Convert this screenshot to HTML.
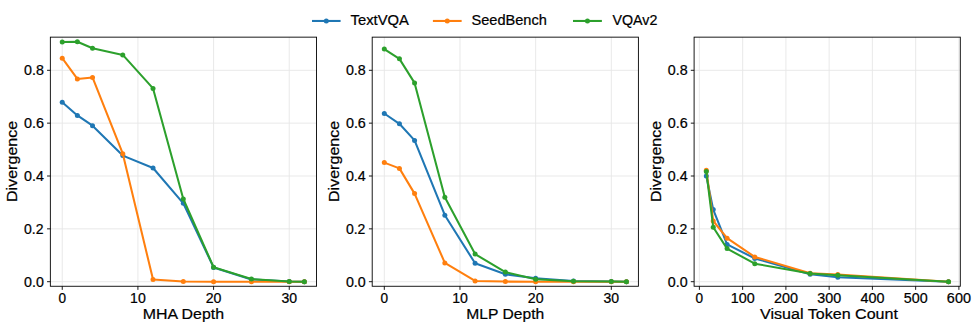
<!DOCTYPE html>
<html><head><meta charset="utf-8"><title>Divergence</title>
<style>
html,body{margin:0;padding:0;background:#fff;}
body{width:977px;height:329px;overflow:hidden;font-family:"Liberation Sans",sans-serif;}
svg{display:block;}
text{font-family:"Liberation Sans",sans-serif;fill:#000;stroke:#000;stroke-width:0.22px;}
.tk{font-size:13.95px;}
.lb{font-size:15.33px;}
.lg{font-size:14.28px;}
.grid line{stroke:#e7e7e7;stroke-width:0.9;}
.spine{fill:none;stroke:#000;stroke-width:0.9;}
.tick line{stroke:#000;stroke-width:0.9;}
.ser{fill:none;stroke-width:2.05;stroke-linejoin:round;stroke-linecap:butt;}
</style></head><body>
<svg width="977" height="329" viewBox="0 0 977 329">
<rect x="0" y="0" width="977" height="329" fill="#fff"/>

<g class="grid">
<line x1="62.24" y1="37.15" x2="62.24" y2="286.26"/>
<line x1="137.91" y1="37.15" x2="137.91" y2="286.26"/>
<line x1="213.58" y1="37.15" x2="213.58" y2="286.26"/>
<line x1="289.25" y1="37.15" x2="289.25" y2="286.26"/>
<line x1="50.35" y1="281.7" x2="316.55" y2="281.7"/>
<line x1="50.35" y1="228.85" x2="316.55" y2="228.85"/>
<line x1="50.35" y1="176.0" x2="316.55" y2="176.0"/>
<line x1="50.35" y1="123.15" x2="316.55" y2="123.15"/>
<line x1="50.35" y1="70.3" x2="316.55" y2="70.3"/>
</g>
<polyline class="ser" stroke="#1f77b4" points="62.24,102.30 77.37,115.40 92.51,125.70 122.78,155.60 153.04,168.00 183.31,203.30 213.58,267.40 251.42,279.40 289.25,281.45 304.38,281.70"/>
<g fill="#1f77b4"><circle cx="62.24" cy="102.30" r="2.5"/><circle cx="77.37" cy="115.40" r="2.5"/><circle cx="92.51" cy="125.70" r="2.5"/><circle cx="122.78" cy="155.60" r="2.5"/><circle cx="153.04" cy="168.00" r="2.5"/><circle cx="183.31" cy="203.30" r="2.5"/><circle cx="213.58" cy="267.40" r="2.5"/><circle cx="251.42" cy="279.40" r="2.5"/><circle cx="289.25" cy="281.45" r="2.5"/><circle cx="304.38" cy="281.70" r="2.5"/></g>
<polyline class="ser" stroke="#ff7f0e" points="62.24,58.20 77.37,78.90 92.51,77.40 122.78,153.70 153.04,279.60 183.31,281.55 213.58,281.70 251.42,281.70 289.25,281.70 304.38,281.70"/>
<g fill="#ff7f0e"><circle cx="62.24" cy="58.20" r="2.5"/><circle cx="77.37" cy="78.90" r="2.5"/><circle cx="92.51" cy="77.40" r="2.5"/><circle cx="122.78" cy="153.70" r="2.5"/><circle cx="153.04" cy="279.60" r="2.5"/><circle cx="183.31" cy="281.55" r="2.5"/><circle cx="213.58" cy="281.70" r="2.5"/><circle cx="251.42" cy="281.70" r="2.5"/><circle cx="289.25" cy="281.70" r="2.5"/><circle cx="304.38" cy="281.70" r="2.5"/></g>
<polyline class="ser" stroke="#2ca02c" points="62.24,41.90 77.37,41.80 92.51,48.30 122.78,54.90 153.04,88.40 183.31,199.00 213.58,267.20 251.42,279.00 289.25,281.45 304.38,281.70"/>
<g fill="#2ca02c"><circle cx="62.24" cy="41.90" r="2.5"/><circle cx="77.37" cy="41.80" r="2.5"/><circle cx="92.51" cy="48.30" r="2.5"/><circle cx="122.78" cy="54.90" r="2.5"/><circle cx="153.04" cy="88.40" r="2.5"/><circle cx="183.31" cy="199.00" r="2.5"/><circle cx="213.58" cy="267.20" r="2.5"/><circle cx="251.42" cy="279.00" r="2.5"/><circle cx="289.25" cy="281.45" r="2.5"/><circle cx="304.38" cy="281.70" r="2.5"/></g>
<rect class="spine" x="50.35" y="37.15" width="266.2" height="249.11"/>
<g class="tick">
<line x1="62.24" y1="286.26" x2="62.24" y2="289.86"/>
<line x1="137.91" y1="286.26" x2="137.91" y2="289.86"/>
<line x1="213.58" y1="286.26" x2="213.58" y2="289.86"/>
<line x1="289.25" y1="286.26" x2="289.25" y2="289.86"/>
<line x1="47.05" y1="281.7" x2="50.35" y2="281.7"/>
<line x1="47.05" y1="228.85" x2="50.35" y2="228.85"/>
<line x1="47.05" y1="176.0" x2="50.35" y2="176.0"/>
<line x1="47.05" y1="123.15" x2="50.35" y2="123.15"/>
<line x1="47.05" y1="70.3" x2="50.35" y2="70.3"/>
</g>
<text class="tk" x="58.46" y="303.00" textLength="7.57" lengthAdjust="spacingAndGlyphs">0</text>
<text class="tk" x="130.12" y="303.00" textLength="15.67" lengthAdjust="spacingAndGlyphs">10</text>
<text class="tk" x="205.69" y="303.00" textLength="15.77" lengthAdjust="spacingAndGlyphs">20</text>
<text class="tk" x="281.50" y="303.00" textLength="15.62" lengthAdjust="spacingAndGlyphs">30</text>
<text class="tk" x="24.05" y="286.55" textLength="19.83" lengthAdjust="spacingAndGlyphs">0.0</text>
<text class="tk" x="24.06" y="233.70" textLength="19.50" lengthAdjust="spacingAndGlyphs">0.2</text>
<text class="tk" x="24.05" y="180.85" textLength="19.82" lengthAdjust="spacingAndGlyphs">0.4</text>
<text class="tk" x="24.05" y="128.00" textLength="19.98" lengthAdjust="spacingAndGlyphs">0.6</text>
<text class="tk" x="24.05" y="75.15" textLength="19.83" lengthAdjust="spacingAndGlyphs">0.8</text>
<text class="lb" x="142.73" y="319.20" textLength="81.36" lengthAdjust="spacingAndGlyphs">MHA Depth</text>
<g transform="translate(17.00,161.15) rotate(-90)"><text class="lb" x="-40.94" y="0.00" textLength="81.36" lengthAdjust="spacingAndGlyphs">Divergence</text></g>
<g class="grid">
<line x1="384.30" y1="37.15" x2="384.30" y2="286.26"/>
<line x1="459.97" y1="37.15" x2="459.97" y2="286.26"/>
<line x1="535.64" y1="37.15" x2="535.64" y2="286.26"/>
<line x1="611.31" y1="37.15" x2="611.31" y2="286.26"/>
<line x1="372.20" y1="281.7" x2="638.40" y2="281.7"/>
<line x1="372.20" y1="228.85" x2="638.40" y2="228.85"/>
<line x1="372.20" y1="176.0" x2="638.40" y2="176.0"/>
<line x1="372.20" y1="123.15" x2="638.40" y2="123.15"/>
<line x1="372.20" y1="70.3" x2="638.40" y2="70.3"/>
</g>
<polyline class="ser" stroke="#1f77b4" points="384.30,113.50 399.43,123.80 414.57,140.40 444.84,215.20 475.10,263.30 505.37,274.25 535.64,278.30 573.48,280.90 611.31,281.50 626.44,281.70"/>
<g fill="#1f77b4"><circle cx="384.30" cy="113.50" r="2.5"/><circle cx="399.43" cy="123.80" r="2.5"/><circle cx="414.57" cy="140.40" r="2.5"/><circle cx="444.84" cy="215.20" r="2.5"/><circle cx="475.10" cy="263.30" r="2.5"/><circle cx="505.37" cy="274.25" r="2.5"/><circle cx="535.64" cy="278.30" r="2.5"/><circle cx="573.48" cy="280.90" r="2.5"/><circle cx="611.31" cy="281.50" r="2.5"/><circle cx="626.44" cy="281.70" r="2.5"/></g>
<polyline class="ser" stroke="#ff7f0e" points="384.30,162.60 399.43,168.40 414.57,193.60 444.84,262.90 475.10,280.90 505.37,281.60 535.64,281.70 573.48,281.70 611.31,281.70 626.44,281.70"/>
<g fill="#ff7f0e"><circle cx="384.30" cy="162.60" r="2.5"/><circle cx="399.43" cy="168.40" r="2.5"/><circle cx="414.57" cy="193.60" r="2.5"/><circle cx="444.84" cy="262.90" r="2.5"/><circle cx="475.10" cy="280.90" r="2.5"/><circle cx="505.37" cy="281.60" r="2.5"/><circle cx="535.64" cy="281.70" r="2.5"/><circle cx="573.48" cy="281.70" r="2.5"/><circle cx="611.31" cy="281.70" r="2.5"/><circle cx="626.44" cy="281.70" r="2.5"/></g>
<polyline class="ser" stroke="#2ca02c" points="384.30,49.05 399.43,58.85 414.57,82.90 444.84,197.30 475.10,254.10 505.37,272.10 535.64,279.30 573.48,281.20 611.31,281.60 626.44,281.70"/>
<g fill="#2ca02c"><circle cx="384.30" cy="49.05" r="2.5"/><circle cx="399.43" cy="58.85" r="2.5"/><circle cx="414.57" cy="82.90" r="2.5"/><circle cx="444.84" cy="197.30" r="2.5"/><circle cx="475.10" cy="254.10" r="2.5"/><circle cx="505.37" cy="272.10" r="2.5"/><circle cx="535.64" cy="279.30" r="2.5"/><circle cx="573.48" cy="281.20" r="2.5"/><circle cx="611.31" cy="281.60" r="2.5"/><circle cx="626.44" cy="281.70" r="2.5"/></g>
<rect class="spine" x="372.20" y="37.15" width="266.2" height="249.11"/>
<g class="tick">
<line x1="384.30" y1="286.26" x2="384.30" y2="289.86"/>
<line x1="459.97" y1="286.26" x2="459.97" y2="289.86"/>
<line x1="535.64" y1="286.26" x2="535.64" y2="289.86"/>
<line x1="611.31" y1="286.26" x2="611.31" y2="289.86"/>
<line x1="368.90" y1="281.7" x2="372.20" y2="281.7"/>
<line x1="368.90" y1="228.85" x2="372.20" y2="228.85"/>
<line x1="368.90" y1="176.0" x2="372.20" y2="176.0"/>
<line x1="368.90" y1="123.15" x2="372.20" y2="123.15"/>
<line x1="368.90" y1="70.3" x2="372.20" y2="70.3"/>
</g>
<text class="tk" x="380.52" y="303.00" textLength="7.57" lengthAdjust="spacingAndGlyphs">0</text>
<text class="tk" x="452.18" y="303.00" textLength="15.67" lengthAdjust="spacingAndGlyphs">10</text>
<text class="tk" x="527.75" y="303.00" textLength="15.77" lengthAdjust="spacingAndGlyphs">20</text>
<text class="tk" x="603.56" y="303.00" textLength="15.62" lengthAdjust="spacingAndGlyphs">30</text>
<text class="tk" x="345.90" y="286.55" textLength="19.83" lengthAdjust="spacingAndGlyphs">0.0</text>
<text class="tk" x="345.91" y="233.70" textLength="19.50" lengthAdjust="spacingAndGlyphs">0.2</text>
<text class="tk" x="345.90" y="180.85" textLength="19.82" lengthAdjust="spacingAndGlyphs">0.4</text>
<text class="tk" x="345.90" y="128.00" textLength="19.98" lengthAdjust="spacingAndGlyphs">0.6</text>
<text class="tk" x="345.90" y="75.15" textLength="19.83" lengthAdjust="spacingAndGlyphs">0.8</text>
<text class="lb" x="466.35" y="319.20" textLength="77.86" lengthAdjust="spacingAndGlyphs">MLP Depth</text>
<g transform="translate(338.85,161.15) rotate(-90)"><text class="lb" x="-40.94" y="0.00" textLength="81.36" lengthAdjust="spacingAndGlyphs">Divergence</text></g>
<g class="grid">
<line x1="699.40" y1="37.15" x2="699.40" y2="286.26"/>
<line x1="742.65" y1="37.15" x2="742.65" y2="286.26"/>
<line x1="785.90" y1="37.15" x2="785.90" y2="286.26"/>
<line x1="829.15" y1="37.15" x2="829.15" y2="286.26"/>
<line x1="872.40" y1="37.15" x2="872.40" y2="286.26"/>
<line x1="915.65" y1="37.15" x2="915.65" y2="286.26"/>
<line x1="958.90" y1="37.15" x2="958.90" y2="286.26"/>
<line x1="694.10" y1="281.7" x2="960.30" y2="281.7"/>
<line x1="694.10" y1="228.85" x2="960.30" y2="228.85"/>
<line x1="694.10" y1="176.0" x2="960.30" y2="176.0"/>
<line x1="694.10" y1="123.15" x2="960.30" y2="123.15"/>
<line x1="694.10" y1="70.3" x2="960.30" y2="70.3"/>
</g>
<polyline class="ser" stroke="#1f77b4" points="706.32,176.00 713.24,209.60 727.08,244.40 754.76,258.40 810.12,274.30 837.80,277.20 948.52,281.70"/>
<g fill="#1f77b4"><circle cx="706.32" cy="176.00" r="2.5"/><circle cx="713.24" cy="209.60" r="2.5"/><circle cx="727.08" cy="244.40" r="2.5"/><circle cx="754.76" cy="258.40" r="2.5"/><circle cx="810.12" cy="274.30" r="2.5"/><circle cx="837.80" cy="277.20" r="2.5"/><circle cx="948.52" cy="281.70" r="2.5"/></g>
<polyline class="ser" stroke="#ff7f0e" points="706.32,170.20 713.24,221.00 727.08,238.20 754.76,256.90 810.12,273.20 837.80,274.60 948.52,281.70"/>
<g fill="#ff7f0e"><circle cx="706.32" cy="170.20" r="2.5"/><circle cx="713.24" cy="221.00" r="2.5"/><circle cx="727.08" cy="238.20" r="2.5"/><circle cx="754.76" cy="256.90" r="2.5"/><circle cx="810.12" cy="273.20" r="2.5"/><circle cx="837.80" cy="274.60" r="2.5"/><circle cx="948.52" cy="281.70" r="2.5"/></g>
<polyline class="ser" stroke="#2ca02c" points="706.32,171.40 713.24,227.30 727.08,248.60 754.76,263.70 810.12,273.40 837.80,275.30 948.52,281.70"/>
<g fill="#2ca02c"><circle cx="706.32" cy="171.40" r="2.5"/><circle cx="713.24" cy="227.30" r="2.5"/><circle cx="727.08" cy="248.60" r="2.5"/><circle cx="754.76" cy="263.70" r="2.5"/><circle cx="810.12" cy="273.40" r="2.5"/><circle cx="837.80" cy="275.30" r="2.5"/><circle cx="948.52" cy="281.70" r="2.5"/></g>
<rect class="spine" x="694.10" y="37.15" width="266.2" height="249.11"/>
<g class="tick">
<line x1="699.40" y1="286.26" x2="699.40" y2="289.86"/>
<line x1="742.65" y1="286.26" x2="742.65" y2="289.86"/>
<line x1="785.90" y1="286.26" x2="785.90" y2="289.86"/>
<line x1="829.15" y1="286.26" x2="829.15" y2="289.86"/>
<line x1="872.40" y1="286.26" x2="872.40" y2="289.86"/>
<line x1="915.65" y1="286.26" x2="915.65" y2="289.86"/>
<line x1="958.90" y1="286.26" x2="958.90" y2="289.86"/>
<line x1="690.80" y1="281.7" x2="694.10" y2="281.7"/>
<line x1="690.80" y1="228.85" x2="694.10" y2="228.85"/>
<line x1="690.80" y1="176.0" x2="694.10" y2="176.0"/>
<line x1="690.80" y1="123.15" x2="694.10" y2="123.15"/>
<line x1="690.80" y1="70.3" x2="694.10" y2="70.3"/>
</g>
<text class="tk" x="695.62" y="303.00" textLength="7.57" lengthAdjust="spacingAndGlyphs">0</text>
<text class="tk" x="730.77" y="303.00" textLength="23.91" lengthAdjust="spacingAndGlyphs">100</text>
<text class="tk" x="773.92" y="303.00" textLength="24.00" lengthAdjust="spacingAndGlyphs">200</text>
<text class="tk" x="817.32" y="303.00" textLength="23.85" lengthAdjust="spacingAndGlyphs">300</text>
<text class="tk" x="860.46" y="303.00" textLength="23.96" lengthAdjust="spacingAndGlyphs">400</text>
<text class="tk" x="903.82" y="303.00" textLength="23.85" lengthAdjust="spacingAndGlyphs">500</text>
<text class="tk" x="946.86" y="303.00" textLength="24.07" lengthAdjust="spacingAndGlyphs">600</text>
<text class="tk" x="667.80" y="286.55" textLength="19.83" lengthAdjust="spacingAndGlyphs">0.0</text>
<text class="tk" x="667.81" y="233.70" textLength="19.50" lengthAdjust="spacingAndGlyphs">0.2</text>
<text class="tk" x="667.80" y="180.85" textLength="19.82" lengthAdjust="spacingAndGlyphs">0.4</text>
<text class="tk" x="667.80" y="128.00" textLength="19.98" lengthAdjust="spacingAndGlyphs">0.6</text>
<text class="tk" x="667.80" y="75.15" textLength="19.83" lengthAdjust="spacingAndGlyphs">0.8</text>
<text class="lb" x="760.02" y="319.20" textLength="137.97" lengthAdjust="spacingAndGlyphs">Visual Token Count</text>
<g transform="translate(660.75,161.15) rotate(-90)"><text class="lb" x="-40.94" y="0.00" textLength="81.36" lengthAdjust="spacingAndGlyphs">Divergence</text></g>
<line x1="312.0" y1="20.95" x2="340.6" y2="20.95" stroke="#1f77b4" stroke-width="2.05"/>
<circle cx="326.30" cy="20.95" r="2.5" fill="#1f77b4"/>
<text class="lg" x="350.53" y="25.00" textLength="58.38" lengthAdjust="spacingAndGlyphs">TextVQA</text>
<line x1="432.9" y1="20.95" x2="461.65" y2="20.95" stroke="#ff7f0e" stroke-width="2.05"/>
<circle cx="447.27" cy="20.95" r="2.5" fill="#ff7f0e"/>
<text class="lg" x="471.44" y="25.00" textLength="75.42" lengthAdjust="spacingAndGlyphs">SeedBench</text>
<line x1="573.0" y1="20.95" x2="601.9" y2="20.95" stroke="#2ca02c" stroke-width="2.05"/>
<circle cx="587.45" cy="20.95" r="2.5" fill="#2ca02c"/>
<text class="lg" x="612.43" y="25.00" textLength="44.99" lengthAdjust="spacingAndGlyphs">VQAv2</text>
</svg></body></html>
